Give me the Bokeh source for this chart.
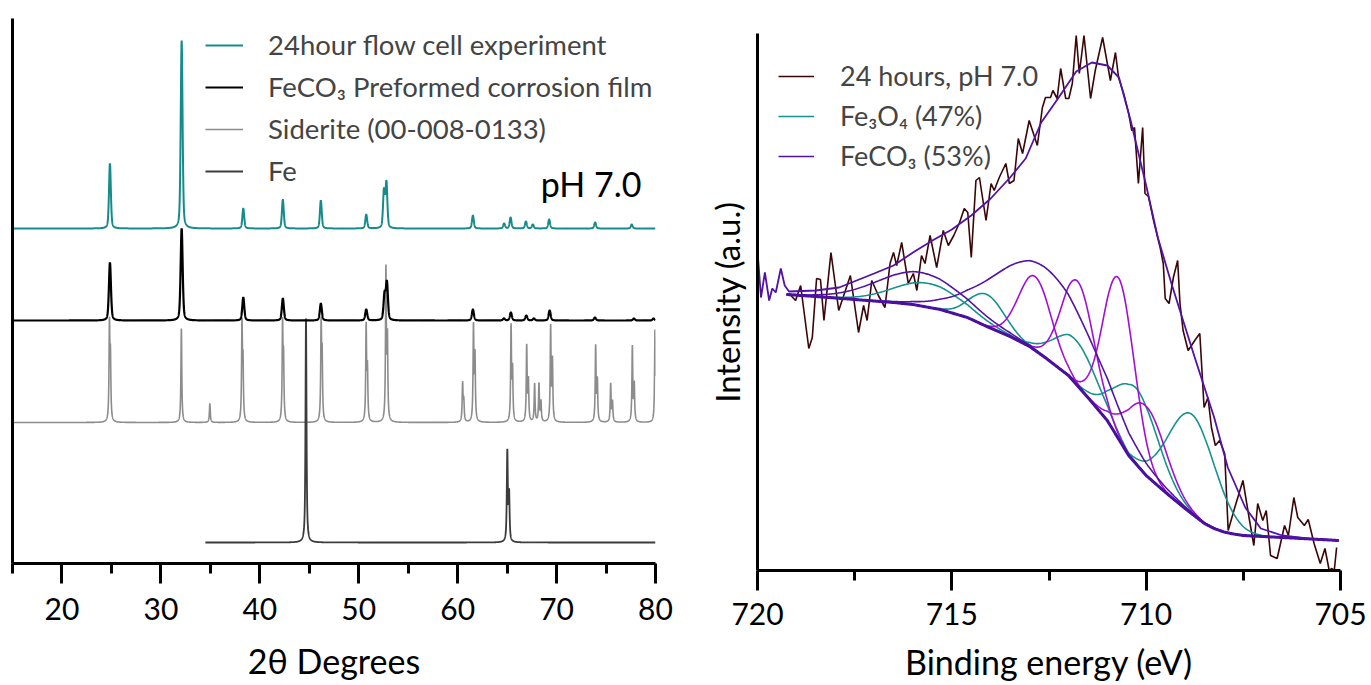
import numpy as np
from bokeh.plotting import figure
from bokeh.models import Range1d, FixedTicker, Legend, LegendItem, Label
from bokeh.layouts import row, column
from bokeh.embed import file_html
from bokeh.resources import INLINE

FONT = "Lato"

# ---------------- XRD data (left panel) ----------------
# stacked patterns, intensity in arbitrary offset units
TEAL_BASE = 335
TEAL_POS = [24.85, 32.10, 38.33, 42.33, 46.17, 50.76, 52.55, 52.80, 61.54, 64.70, 65.35, 66.90, 67.60, 69.25, 73.90, 77.60]
TEAL_TOP = [400, 523, 355, 364, 363, 349, 372, 380, 348, 340, 346, 342, 339, 344, 341, 339]

BLACK_BASE = 243
BLACK_POS = [24.85, 32.10, 38.33, 42.33, 46.17, 50.76, 52.61, 52.85, 61.54, 64.68, 65.38, 66.94, 67.71, 69.30, 73.88, 77.82, 79.80]
BLACK_TOP = [301, 335, 266, 265, 260, 254, 268, 280, 254, 245, 251, 248, 245, 253, 246, 245, 245]

GRAY_BASE = 141
GRAY_POS = [24.80, 32.07, 34.95, 38.20, 42.30, 46.20, 50.75, 52.75, 60.50, 61.60, 65.40, 66.98, 67.78, 68.22, 68.42, 69.40, 73.95, 75.47, 77.66, 79.95,
            24.90, 38.30, 42.40, 46.30, 50.88, 52.90, 60.62, 61.75, 65.55, 67.15, 69.58, 74.12, 75.65, 77.85]
GRAY_TOP = [235, 235, 160, 235, 235, 235, 235, 291, 179, 235, 235, 216, 179, 179, 161, 235, 216, 179, 216, 234,
            200, 194, 198, 201, 191, 220, 161, 205, 191, 181, 201, 181, 161, 178]

FE_BASE = 21
FE_START = 34.5
FE_POS = [44.67, 65.02, 65.20]
FE_TOP = [245, 111, 68]

# ---------------- XPS data (right panel) ----------------
RAW_E = [719.19, 719.02, 718.89, 718.68, 718.59, 718.48, 718.38, 718.29, 718.11, 717.91, 717.61, 717.40, 717.27, 717.18,
         717.06, 716.89, 716.72, 716.59, 716.50, 716.42, 716.29, 716.12, 715.99, 715.90, 715.78, 715.69, 715.56, 715.39,
         715.22, 715.09, 714.95, 714.80, 714.68, 714.59, 714.50, 714.38, 714.29, 714.12, 713.99, 713.91, 713.78, 713.61,
         713.52, 713.40, 713.29, 713.18, 713.01, 712.80, 712.67, 712.59, 712.46, 712.40, 712.29, 712.20, 712.07, 711.99,
         711.90, 711.80, 711.72, 711.60, 711.43, 711.31, 711.12, 710.92, 710.79, 710.71, 710.58, 710.45, 710.37, 710.30,
         710.20, 710.09, 710.03, 709.94, 709.81, 709.64, 709.56, 709.51, 709.41, 709.30, 709.19, 709.13, 709.05, 708.92,
         708.75, 708.62, 708.51, 708.41, 708.32, 708.22, 708.11, 707.98, 707.89, 707.72, 707.51, 707.34, 707.23, 707.13,
         707.00, 706.91, 706.80, 706.63, 706.44, 706.34, 706.20, 706.10, 705.93, 705.83, 705.68, 705.52, 705.40, 705.29,
         705.23, 705.16, 705.10]
RAW_I = [277, 270, 285, 222, 233, 292, 291, 250, 318, 260, 295, 238, 265, 250,
         290, 275, 263, 307, 318, 305, 328, 287, 297, 280, 315, 307, 335, 303,
         340, 325, 335, 348, 362, 358, 313, 390, 393, 350, 387, 380, 393, 407,
         387, 390, 432, 417, 450, 425, 463, 473, 473, 480, 472, 502, 472, 472,
         487, 535, 497, 535, 472, 500, 533, 490, 518, 493, 477, 457, 440, 443,
         387, 443, 377, 374, 350, 323, 307, 272, 267, 293, 310, 267, 240, 220,
         230, 237, 163, 173, 143, 125, 130, 117, 40, 63, 90, 50, 25, 67,
         50, 60, 15, 12, 45, 35, 73, 53, 45, 51, 27, 7, 22, 0,
         2, 0, 23]

ENV_E = [720.00, 719.91, 719.81, 719.70, 719.62, 719.53, 719.40, 719.30, 719.19, 718.50, 717.90, 717.00, 716.50, 716.00,
         715.50, 715.00, 714.50, 714.00, 713.50, 713.10, 712.70, 712.25, 711.80, 711.40, 711.00, 710.70, 710.40, 710.00,
         709.70, 709.35, 708.75, 708.25, 707.90, 707.45, 707.05, 706.50, 705.85, 705.05]
ENV_I = [320, 273, 298, 270, 282, 278, 302, 285, 279, 280, 283, 297, 305, 318,
         330, 341, 355, 372, 393, 412, 448, 473, 499, 508, 505, 493, 450, 385,
         333, 287, 213, 153, 103, 63, 42, 35, 32, 30]

BG_E = [719.25, 718.50, 717.50, 716.50, 716.00, 715.30, 714.60, 714.10, 713.50, 713.00, 712.60, 712.00, 711.50, 711.00,
        710.45, 710.00, 709.50, 709.00, 708.50, 708.25, 708.00, 707.75, 707.50, 707.00, 706.00, 705.05]
BG_I = [276, 274, 271, 268, 266, 261, 253, 244, 234, 224, 213, 195, 173, 150,
        115, 95, 78, 62, 47, 42, 38.5, 36.5, 35, 34, 32, 30]

# fitted components: centre (eV), peak intensity incl. background, sigma (eV)
FE3O4_C = [715.60, 714.10, 711.80, 710.25, 708.82]
FE3O4_P = [287, 276, 230, 182, 156]
FE3O4_S = [0.90, 0.45, 0.55, 0.55, 0.60]

FECO3_C = [712.86, 711.76, 710.70, 710.00]
FECO3_P = [294, 289, 292, 164]
FECO3_S = [0.42, 0.42, 0.40, 0.50]

FECO3B_C = [715.80, 712.60]
FECO3B_P = [298, 303]
FECO3B_S = [1.10, 1.30]

# ---------------- helpers ----------------
def pattern(x, pos, top, base, hw, eta):
    y = np.full(len(x), float(base))
    for c, t in zip(pos, top):
        d = (x - c) / hw
        y += (t - base) * ((1 - eta) * np.exp(-np.log(2) * d * d) + eta / (1 + d * d))
    return y


def style_axes(p, title, size_ticks="30px", size_title="34px"):
    p.xaxis.axis_label = title
    p.xaxis.axis_label_text_font = FONT
    p.xaxis.axis_label_text_font_size = size_title
    p.xaxis.axis_label_text_font_style = "normal"
    p.xaxis.axis_label_text_color = "black"
    p.xaxis.major_label_text_font = FONT
    p.xaxis.major_label_text_font_size = size_ticks
    p.xaxis.major_label_text_color = "black"
    p.xaxis.axis_line_width = 3
    p.xaxis.major_tick_line_width = 3
    p.xaxis.minor_tick_line_width = 3
    p.xaxis.major_tick_in = 0
    p.xaxis.major_tick_out = 20
    p.xaxis.minor_tick_in = 0
    p.xaxis.minor_tick_out = 10
    p.yaxis.ticker = FixedTicker(ticks=[])
    p.yaxis.axis_line_width = 3
    p.yaxis.major_tick_line_color = None
    p.yaxis.minor_tick_line_color = None
    p.grid.visible = False
    p.outline_line_color = None


H = 684
# ---------------- left: XRD ----------------
W1 = 690
left = figure(width=W1, height=H, output_backend="svg", toolbar_location=None,
              x_range=Range1d(15, 80), y_range=Range1d(0, 545),
              min_border_left=12, min_border_right=W1 - 12 - 643, min_border_top=18, min_border_bottom=H - 18 - 545)
left.xaxis.ticker = FixedTicker(ticks=[20, 30, 40, 50, 60, 70, 80], minor_ticks=[15, 25, 35, 45, 55, 65, 75])
style_axes(left, "2θ Degrees")
left.xaxis.major_label_standoff = 14
left.xaxis.axis_label_standoff = 17

x = np.round(np.arange(15.0, 80.0001, 0.01), 3)
xf = x[x >= FE_START]
r_gray = left.line(x, pattern(x, GRAY_POS, GRAY_TOP, GRAY_BASE, 0.05, 1.0), line_color="#8c8c8c", line_width=1.6)
r_fe = left.line(xf, pattern(xf, FE_POS, FE_TOP, FE_BASE, 0.06, 0.8), line_color="#3c3c3c", line_width=1.8)
r_black = left.line(x, pattern(x, BLACK_POS, BLACK_TOP, BLACK_BASE, 0.12, 0.4), line_color="#000000", line_width=2.2)
r_teal = left.line(x, pattern(x, TEAL_POS, TEAL_TOP, TEAL_BASE, 0.11, 0.4), line_color="#168b8b", line_width=2)

leg1 = Legend(items=[LegendItem(label="24hour flow cell experiment", renderers=[r_teal]),
                     LegendItem(label="FeCO₃ Preformed corrosion film", renderers=[r_black]),
                     LegendItem(label="Siderite (00-008-0133)", renderers=[r_gray]),
                     LegendItem(label="Fe", renderers=[r_fe])],
              location=(193, 376), border_line_color=None, background_fill_alpha=0,
              label_text_font=FONT, label_text_font_size="27.5px", glyph_width=38, glyph_height=20,
              label_height=20, label_standoff=25, spacing=9, padding=0, margin=0)
left.add_layout(leg1)
left.add_layout(Label(x=68.4, y=380, text="pH 7.0", text_font=FONT, text_font_size="34px",
                      text_baseline="middle", text_color="black"))

# ---------------- right: XPS ----------------
W2 = 1370 - W1
FL = 757 - W1
right = figure(width=W2, height=H, output_backend="svg", toolbar_location=None,
               x_range=Range1d(720, 705), y_range=Range1d(0, 537),
               min_border_left=FL, min_border_right=W2 - FL - 583, min_border_top=33, min_border_bottom=H - 33 - 537)
right.xaxis.ticker = FixedTicker(ticks=[720, 715, 710, 705], minor_ticks=[717.5, 712.5, 707.5])
style_axes(right, "Binding energy (eV)")
right.xaxis.major_label_standoff = 12
right.xaxis.axis_label_standoff = 13
right.yaxis.axis_label = "Intensity (a.u.)"
right.yaxis.axis_label_text_font = FONT
right.yaxis.axis_label_text_font_size = "33px"
right.yaxis.axis_label_text_font_style = "normal"
right.yaxis.axis_label_text_color = "black"
right.yaxis.axis_label_standoff = 11

E = np.round(np.arange(705.05, 719.2501, 0.02), 3)
bgE = np.array(BG_E[::-1]); bgI = np.array(BG_I[::-1])
bg = np.interp(E, bgE, bgI)

RAW_C = "#3a0608"
TEAL_C = "#15918e"
VIOL_C = "#a20fd4"
PURP_C = "#5212a6"

r_raw = right.line(RAW_E, RAW_I, line_color=RAW_C, line_width=1.6)


def comp(c, pk, s):
    h = pk - np.interp(c, bgE, bgI)
    return bg + h * np.exp(-((E - c) ** 2) / (2 * s * s))


teal_r = []
for c, pk, s in zip(FE3O4_C, FE3O4_P, FE3O4_S):
    teal_r.append(right.line(E, comp(c, pk, s), line_color=TEAL_C, line_width=1.6))
for c, pk, s in zip(FECO3_C, FECO3_P, FECO3_S):
    right.line(E, comp(c, pk, s), line_color=VIOL_C, line_width=1.6)
purp_r = []
for c, pk, s in zip(FECO3B_C, FECO3B_P, FECO3B_S):
    purp_r.append(right.line(E, comp(c, pk, s), line_color=PURP_C, line_width=1.6))
right.line(E, bg, line_color="#4a10a0", line_width=3)
right.line(ENV_E, ENV_I, line_color=PURP_C, line_width=1.8)

leg2 = Legend(items=[LegendItem(label="24 hours, pH 7.0", renderers=[r_raw]),
                     LegendItem(label="Fe₃O₄ (47%)", renderers=[teal_r[0]]),
                     LegendItem(label="FeCO₃ (53%)", renderers=[purp_r[0]])],
              location=(21, 398), border_line_color=None, background_fill_alpha=0,
              label_text_font=FONT, label_text_font_size="27px", glyph_width=36, glyph_height=20,
              label_height=20, label_standoff=26, spacing=7, padding=0, margin=0)
right.add_layout(leg2)

layout = row(column(left), column(right))
open("out.html", "w").write(file_html(layout, INLINE))
